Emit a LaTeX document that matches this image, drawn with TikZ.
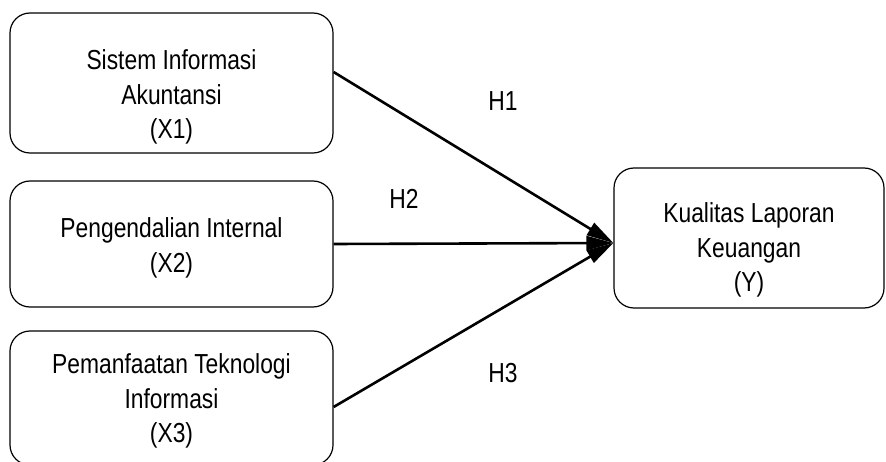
\documentclass[tikz,border=0pt]{standalone}
\usepackage{fontspec}
\setmainfont{Liberation Sans}[FakeStretch=0.83]
\usetikzlibrary{arrows.meta}
\tikzset{
  box/.style={draw=black, line width=1.2pt, rounded corners=20pt, inner sep=0pt},
  lbl/.style={align=center, font=\fontsize{27.5}{34.5}\selectfont, inner sep=0pt},
  arr/.style={line width=2.6pt, -{Triangle[length=27pt,width=14pt]}},
}
\begin{document}
\begin{tikzpicture}[x=1pt,y=-1pt]
\clip (0,0) rectangle (886,462);
\fill[white] (0,0) rectangle (886,462);
% boxes
\node[box, minimum width=323pt, minimum height=140pt] (s1) at (171.5,83) {};
\node[box, minimum width=323pt, minimum height=126pt] (s2) at (171.5,244) {};
\node[box, minimum width=323pt, minimum height=134pt] (s3) at (171.5,398) {};
\node[box, minimum width=270pt, minimum height=140pt] (y) at (749,238) {};
% texts
\node[lbl] (t1) at (171.5,97) {Sistem Informasi\\Akuntansi\\(X1)};
\node[lbl] (t2) at (171.5,248) {Pengendalian Internal\\(X2)};
\node[lbl] (t3) at (171.5,401) {Pemanfaatan Teknologi\\Informasi\\(X3)};
\node[lbl] (ty) at (749,250) {Kualitas Laporan\\Keuangan\\(Y)};
% connectors
\coordinate (tip) at ([yshift=-5pt]y.west);
\draw[arr] ([yshift=11pt]s1.east) -- (tip);
\draw[arr] (s2.east) -- (tip);
\draw[arr] ([yshift=-9pt]s3.east) -- (tip);
% hypothesis labels
\node[lbl] (h1) at (503,101) {H1};
\node[lbl] (h2) at (404,199) {H2};
\node[lbl] (h3) at (503,373) {H3};
\end{tikzpicture}
\end{document}
